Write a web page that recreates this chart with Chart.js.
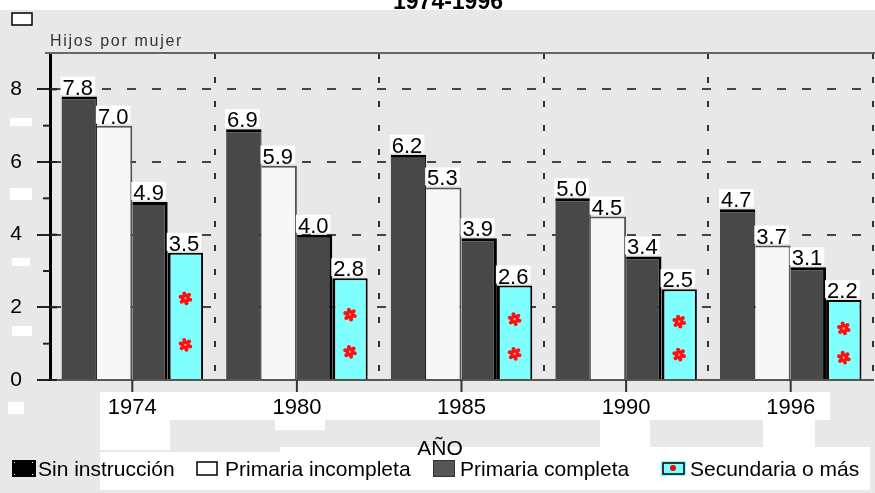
<!DOCTYPE html>
<html>
<head>
<meta charset="utf-8">
<script src="https://cdn.jsdelivr.net/npm/chart.js@4/dist/chart.umd.min.js"></script>
<style>
html,body{margin:0;padding:0;background:#e8e8e8;}
#wrap{width:875px;height:493px;position:relative;}
</style>
</head>
<body>
<div id="wrap"><canvas id="c"></canvas></div>
<script>
const titleText = '1974-1996';
const yAxisTitle = 'Hijos por mujer';
const xAxisTitle = 'AÑO';
const categories = ['1974', '1980', '1985', '1990', '1996'];
const seriesNames = ['Sin instrucción', 'Primaria incompleta', 'Primaria completa', 'Secundaria o más'];
const sinInstruccion = [7.8, 6.9, 6.2, 5.0, 4.7];
const primariaIncompleta = [7.0, 5.9, 5.3, 4.5, 3.7];
const primariaCompleta = [4.9, 4.0, 3.9, 3.4, 3.1];
const secundariaOMas = [3.5, 2.8, 2.6, 2.5, 2.2];
const yTicks = [0, 2, 4, 6, 8];
const yMinorTicks = [1, 3, 5, 7];

const FONT = '"Liberation Sans", Arial, sans-serif';
Chart.defaults.font.family = FONT;

const colors = ['#484848', '#f7f7f7', '#484848', '#80ffff'];
const borders = ['#000000', '#555555', '#000000', '#000000'];
const borderWidths = [
  {top: 3, right: 1, left: 0, bottom: 0},
  {top: 2, right: 2, left: 0, bottom: 0},
  {top: 3, right: 3, left: 0, bottom: 0},
  {top: 2, right: 2, left: 3, bottom: 0}
];
const seriesData = [sinInstruccion, primariaIncompleta, primariaCompleta, secundariaOMas];

function drawBlob(ctx, x, y) {
  ctx.save();
  ctx.fillStyle = '#ff1010';
  ctx.beginPath();
  ctx.arc(x, y, 4.5, 0, Math.PI * 2);
  ctx.fill();
  for (let k = 0; k < 6; k++) {
    const a = k * Math.PI / 3 + 0.3;
    ctx.beginPath();
    ctx.arc(x + Math.cos(a) * 5, y + Math.sin(a) * 5, 2, 0, Math.PI * 2);
    ctx.fill();
  }
  ctx.fillStyle = '#ffaaaa';
  ctx.fillRect(x - 1, y - 1, 2, 2);
  ctx.restore();
}

const decor = {
  id: 'decor',
  beforeDraw(chart) {
    const ctx = chart.ctx;
    ctx.save();
    ctx.fillStyle = '#e8e8e8';
    ctx.fillRect(0, 0, chart.width, chart.height);
    // white patches of the original image
    ctx.fillStyle = '#ffffff';
    ctx.fillRect(0, 0, chart.width, 10);
    ctx.fillRect(100, 392, 730, 28);
    ctx.fillRect(100, 420, 70, 30);
    ctx.fillRect(275, 420, 50, 10);
    ctx.fillRect(600, 413, 50, 36);
    ctx.fillRect(763, 413, 52, 36);
    ctx.fillRect(280, 447, 590, 43);
    ctx.fillRect(100, 452, 180, 38);
    ctx.fillRect(10, 118, 22, 8);
    ctx.fillRect(10, 188, 22, 12);
    ctx.fillRect(12, 258, 18, 8);
    ctx.fillRect(12, 326, 20, 10);
    ctx.fillRect(8, 402, 16, 12);
    // title (cut at top)
    ctx.fillStyle = '#000';
    ctx.font = 'bold 23px ' + FONT;
    ctx.textAlign = 'center';
    ctx.textBaseline = 'alphabetic';
    ctx.fillText(titleText, 448, 9);
    // small square top-left
    ctx.fillStyle = '#ffffff';
    ctx.fillRect(12, 13, 20, 12);
    ctx.strokeStyle = '#000';
    ctx.lineWidth = 1.5;
    ctx.strokeRect(12, 13, 20, 12);
    // y axis title
    ctx.fillStyle = '#333';
    ctx.font = '16px ' + FONT;
    ctx.textAlign = 'left';
    if ('letterSpacing' in ctx) ctx.letterSpacing = '1.7px';
    ctx.fillText(yAxisTitle, 50, 46);
    if ('letterSpacing' in ctx) ctx.letterSpacing = '0px';
    ctx.restore();
  },
  afterDatasetsDraw(chart) {
    const ctx = chart.ctx;
    const area = chart.chartArea;
    const yScale = chart.scales.y;
    const xScale = chart.scales.x;
    ctx.save();
    // top border
    ctx.strokeStyle = '#666';
    ctx.lineWidth = 2;
    ctx.beginPath();
    ctx.moveTo(45, area.top);
    ctx.lineTo(chart.width, area.top);
    ctx.stroke();
    // minor y ticks
    ctx.strokeStyle = '#222';
    ctx.lineWidth = 2;
    yMinorTicks.forEach(v => {
      const y = yScale.getPixelForValue(v);
      ctx.beginPath();
      ctx.moveTo(43, y);
      ctx.lineTo(area.left, y);
      ctx.stroke();
    });
    // major ticks to the right of axis
    yTicks.forEach(v => {
      const y = yScale.getPixelForValue(v);
      ctx.beginPath();
      ctx.moveTo(area.left, y);
      ctx.lineTo(area.left + 7, y);
      ctx.stroke();
    });
    // x ticks at category centres
    ctx.strokeStyle = '#333';
    categories.forEach((c, i) => {
      const x = xScale.getPixelForValue(i);
      ctx.beginPath();
      ctx.moveTo(x, area.bottom);
      ctx.lineTo(x, area.bottom + 12);
      ctx.stroke();
    });
    // blobs in the cyan bars
    const meta3 = chart.getDatasetMeta(3);
    meta3.data.forEach(bar => {
      const p = bar.getProps(['x', 'y', 'base'], true);
      const h = p.base - p.y;
      drawBlob(ctx, p.x, p.base - h * 0.64);
      drawBlob(ctx, p.x, p.base - h * 0.27);
    });
    // value labels
    ctx.font = '22px ' + FONT;
    ctx.textAlign = 'left';
    ctx.textBaseline = 'alphabetic';
    chart.data.datasets.forEach((ds, i) => {
      const meta = chart.getDatasetMeta(i);
      meta.data.forEach((bar, j) => {
        const p = bar.getProps(['x', 'y', 'width'], true);
        const left = p.x - p.width / 2;
        const txt = ds.data[j].toFixed(1);
        const w = ctx.measureText(txt).width;
        ctx.fillStyle = '#ffffff';
        ctx.fillRect(left - 1, p.y - 20, w + 4, 18);
        ctx.fillStyle = '#000';
        ctx.fillText(txt, left + 1, p.y - 2);
      });
    });
    ctx.restore();
  },
  afterDraw(chart) {
    const ctx = chart.ctx;
    ctx.save();
    // x axis title
    ctx.fillStyle = '#000';
    ctx.font = '21px ' + FONT;
    ctx.textAlign = 'center';
    ctx.textBaseline = 'alphabetic';
    ctx.fillText(xAxisTitle, 440, 455);
    // legend
    const boxX = [12, 197, 433, 661];
    const textX = [38, 225, 460, 690];
    ctx.textAlign = 'left';
    chart.data.datasets.forEach((ds, i) => {
      const bx = boxX[i];
      if (i === 0) {
        ctx.fillStyle = '#000';
        ctx.fillRect(bx, 460, 24, 17);
        ctx.fillStyle = '#fff';
        ctx.fillRect(bx + 2, 462, 1, 1);
        ctx.fillRect(bx + 20, 462, 1, 1);
        ctx.fillRect(bx + 2, 474, 1, 1);
        ctx.fillRect(bx + 20, 474, 1, 1);
      } else if (i === 1) {
        ctx.fillStyle = '#fff';
        ctx.fillRect(bx, 462, 20, 13);
        ctx.strokeStyle = '#000';
        ctx.lineWidth = 1.5;
        ctx.strokeRect(bx, 462, 20, 13);
      } else if (i === 2) {
        ctx.fillStyle = '#555';
        ctx.fillRect(bx, 460, 22, 17);
        ctx.strokeStyle = '#333';
        ctx.lineWidth = 1;
        ctx.strokeRect(bx + 0.5, 460.5, 21, 16);
      } else {
        ctx.fillStyle = '#80ffff';
        ctx.fillRect(bx, 461, 25, 15);
        ctx.strokeStyle = '#000';
        ctx.lineWidth = 1.5;
        ctx.strokeRect(bx + 2, 463, 21, 11);
        ctx.fillStyle = '#ff0000';
        ctx.beginPath();
        ctx.arc(bx + 12, 468, 3, 0, Math.PI * 2);
        ctx.fill();
      }
      ctx.fillStyle = '#000';
      ctx.fillText(ds.label, textX[i], 476);
    });
    ctx.restore();
  }
};

new Chart(document.getElementById('c'), {
  type: 'bar',
  data: {
    labels: categories,
    datasets: seriesNames.map((name, i) => ({
      label: name,
      data: seriesData[i],
      backgroundColor: colors[i],
      borderColor: borders[i],
      borderWidth: borderWidths[i],
      borderSkipped: false,
      categoryPercentage: 0.86,
      barPercentage: 1.0
    }))
  },
  options: {
    responsive: true,
    maintainAspectRatio: false,
    animation: false,
    layout: {padding: {top: 53, right: 2, left: 0, bottom: 0}},
    plugins: {
      legend: {display: false},
      title: {display: false},
      tooltip: {enabled: false}
    },
    scales: {
      x: {
        offset: true,
        grid: {
          offset: true,
          color: '#333',
          lineWidth: 2,
          drawTicks: false
        },
        border: {display: true, color: '#555', width: 2, dash: [6, 18]},
        ticks: {color: '#000', font: {size: 22, family: FONT}, padding: 15},
        afterFit(scale) { scale.height = 113; }
      },
      y: {
        min: 0,
        max: 9,
        afterBuildTicks(scale) { scale.ticks = yTicks.map(v => ({value: v})); },
        grid: {
          color: c => (c.tick && c.tick.value === 0) ? 'rgba(0,0,0,0)' : '#444',
          lineWidth: 2,
          tickLength: 13,
          tickColor: '#222',
          tickWidth: 2
        },
        border: {display: true, color: '#000', width: 3, dash: [9, 16]},
        ticks: {color: '#000', font: {size: 21, family: FONT}, padding: 15, callback: v => String(v)},
        afterFit(scale) { scale.width = 50; }
      }
    }
  },
  plugins: [decor]
});
</script>
</body>
</html>
